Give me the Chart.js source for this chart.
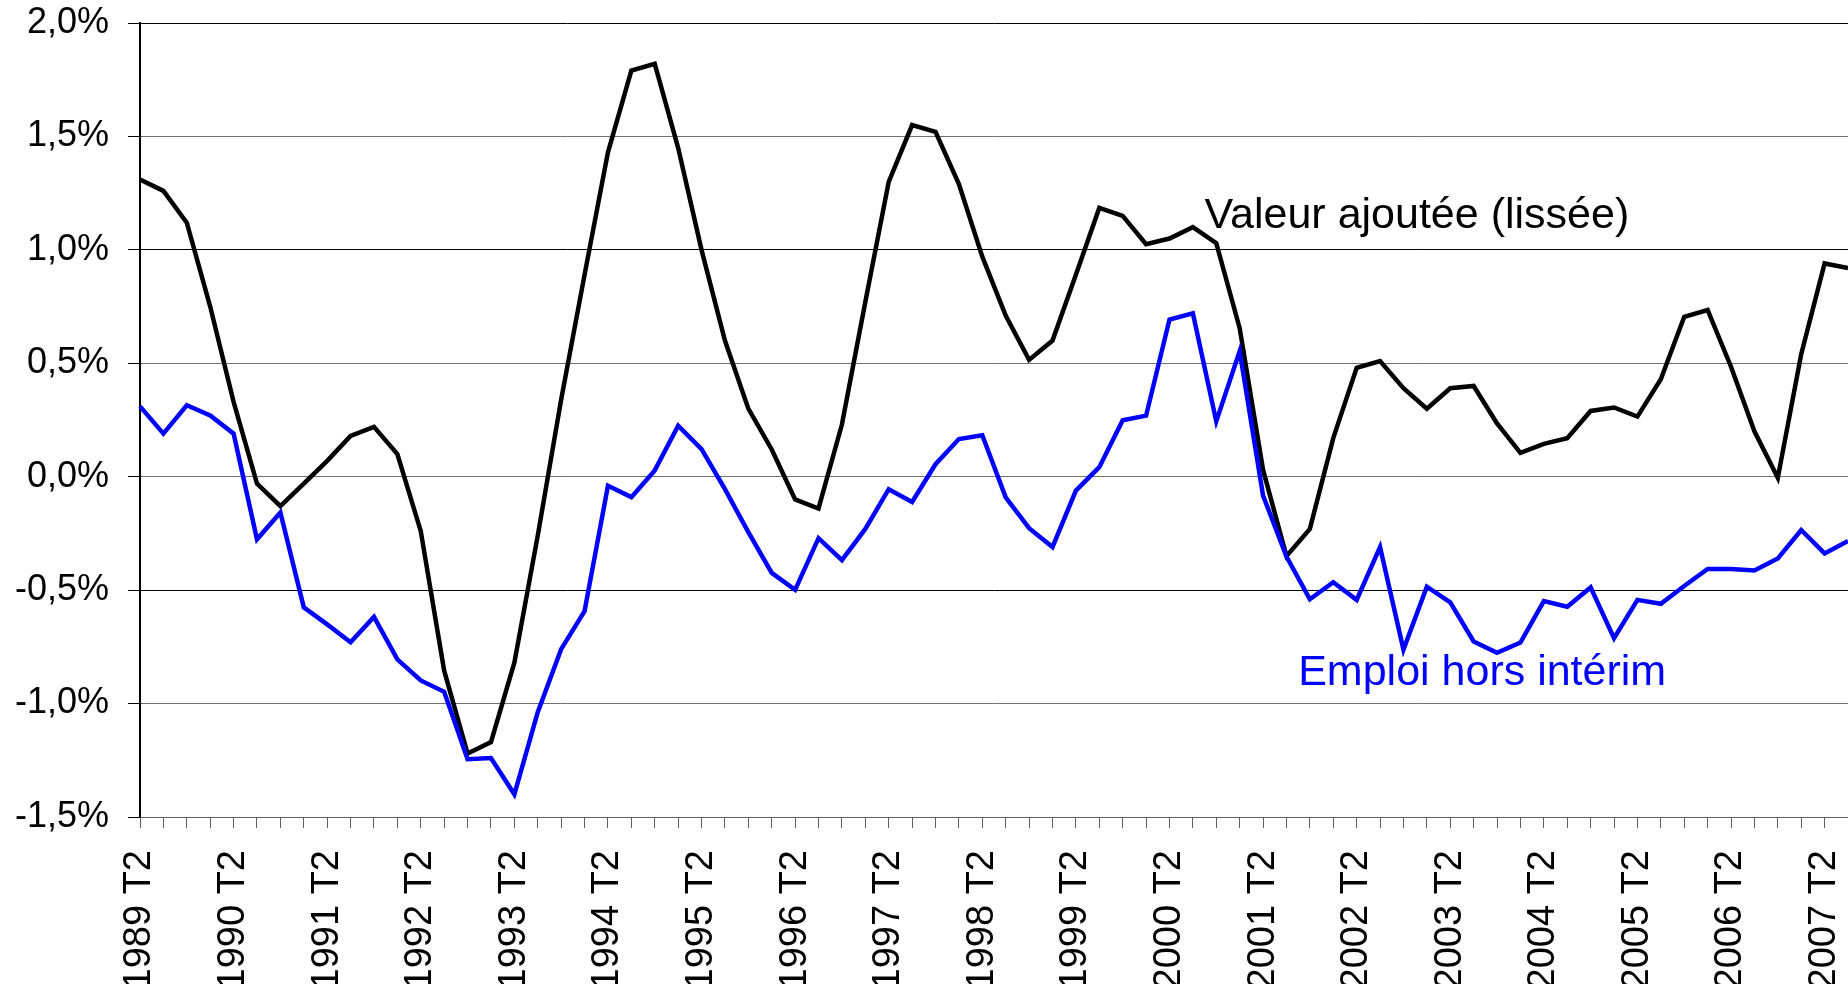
<!DOCTYPE html>
<html lang="fr">
<head>
<meta charset="utf-8">
<title>Valeur ajoutée et emploi</title>
<script src="https://cdn.jsdelivr.net/npm/chart.js@4.4.1/dist/chart.umd.min.js"></script>
<style>
  html, body { margin: 0; padding: 0; background: #fff; overflow: hidden; }
  #wrap { position: absolute; left: 0; top: 0; width: 1848px; height: 984px; }
</style>
</head>
<body>
<div id="wrap"><canvas id="chart"></canvas></div>
<script>
// ==================== DATA ====================
const quarters = [
  '1989 T2', '1989 T3', '1989 T4',
  '1990 T1', '1990 T2', '1990 T3', '1990 T4',
  '1991 T1', '1991 T2', '1991 T3', '1991 T4',
  '1992 T1', '1992 T2', '1992 T3', '1992 T4',
  '1993 T1', '1993 T2', '1993 T3', '1993 T4',
  '1994 T1', '1994 T2', '1994 T3', '1994 T4',
  '1995 T1', '1995 T2', '1995 T3', '1995 T4',
  '1996 T1', '1996 T2', '1996 T3', '1996 T4',
  '1997 T1', '1997 T2', '1997 T3', '1997 T4',
  '1998 T1', '1998 T2', '1998 T3', '1998 T4',
  '1999 T1', '1999 T2', '1999 T3', '1999 T4',
  '2000 T1', '2000 T2', '2000 T3', '2000 T4',
  '2001 T1', '2001 T2', '2001 T3', '2001 T4',
  '2002 T1', '2002 T2', '2002 T3', '2002 T4',
  '2003 T1', '2003 T2', '2003 T3', '2003 T4',
  '2004 T1', '2004 T2', '2004 T3', '2004 T4',
  '2005 T1', '2005 T2', '2005 T3', '2005 T4',
  '2006 T1', '2006 T2', '2006 T3', '2006 T4',
  '2007 T1', '2007 T2', '2007 T3'
];

// Valeur ajoutée (lissée), glissement trimestriel en %
const valeurAjoutee = [
  1.31, 1.26, 1.12, 0.75, 0.33, -0.03, -0.13, -0.03, 0.07, 0.18,
  0.22, 0.10, -0.24, -0.855, -1.22, -1.17, -0.82, -0.26, 0.34, 0.89,
  1.43, 1.79, 1.82, 1.45, 1.00, 0.60, 0.30, 0.12, -0.10, -0.14,
  0.23, 0.77, 1.30, 1.55, 1.52, 1.29, 0.97, 0.71, 0.515, 0.60,
  0.89, 1.185, 1.15, 1.025, 1.05, 1.10, 1.03, 0.655, 0.03, -0.35,
  -0.23, 0.17, 0.48, 0.51, 0.39, 0.30, 0.39, 0.40, 0.235, 0.105,
  0.145, 0.17, 0.29, 0.305, 0.265, 0.43, 0.705, 0.735, 0.485, 0.20,
  -0.005, 0.54, 0.94, 0.92
];

// Emploi hors intérim, glissement trimestriel en %
const emploiHorsInterim = [
  0.31, 0.19, 0.315, 0.27, 0.19, -0.276, -0.158, -0.576, -0.651, -0.73,
  -0.618, -0.805, -0.898, -0.948, -1.245, -1.24, -1.40, -1.038, -0.76, -0.593,
  -0.04, -0.09, 0.028, 0.225, 0.122, -0.055, -0.244, -0.424, -0.499, -0.271,
  -0.368, -0.23, -0.055, -0.111, 0.055, 0.166, 0.183, -0.091, -0.227, -0.31,
  -0.061, 0.042, 0.249, 0.269, 0.693, 0.72, 0.244, 0.554, -0.083, -0.352,
  -0.54, -0.465, -0.543, -0.31, -0.762, -0.485, -0.554, -0.726, -0.776, -0.731,
  -0.548, -0.573, -0.488, -0.712, -0.543, -0.56, -0.482, -0.407, -0.407, -0.413,
  -0.36, -0.235, -0.338, -0.283
];

const yTicks = [-1.5, -1.0, -0.5, 0.0, 0.5, 1.0, 1.5, 2.0];

// ==================== CHART ====================
const FONT = "'Liberation Sans', Arial, sans-serif";

// text labels placed next to the curves (x = category index, y = value)
const seriesLabels = {
  id: 'seriesLabels',
  afterDatasetsDraw(chart) {
    const { ctx, scales: { x, y } } = chart;
    ctx.save();
    ctx.font = '43px ' + FONT;
    ctx.textAlign = 'left';
    ctx.textBaseline = 'alphabetic';
    ctx.fillStyle = '#000000';
    ctx.fillText('Valeur ajoutée (lissée)', x.getPixelForValue(45.5), y.getPixelForValue(1.097));
    ctx.fillStyle = '#0000ff';
    ctx.fillText('Emploi hors intérim', x.getPixelForValue(49.5), y.getPixelForValue(-0.919));
    ctx.restore();
  }
};

new Chart(document.getElementById('chart'), {
  type: 'line',
  data: {
    labels: quarters,
    datasets: [
      {
        label: 'Emploi hors intérim',
        data: emploiHorsInterim,
        borderColor: '#0000ff',
        borderWidth: 4.5,
        pointRadius: 0,
        tension: 0,
        fill: false
      },
      {
        label: 'Valeur ajoutée (lissée)',
        data: valeurAjoutee,
        borderColor: '#000000',
        borderWidth: 4.5,
        pointRadius: 0,
        tension: 0,
        fill: false
      }
    ]
  },
  options: {
    responsive: true,
    maintainAspectRatio: false,
    animation: false,
    events: [],
    layout: { padding: { top: 23, right: 0, bottom: 0, left: 0 } },
    plugins: {
      legend: { display: false },
      tooltip: { enabled: false },
      title: { display: false }
    },
    scales: {
      x: {
        type: 'category',
        offset: false,
        border: { display: true, color: '#606060', width: 1 },
        grid: {
          display: true,
          drawOnChartArea: false,
          drawTicks: true,
          tickLength: 11,
          color: '#606060',
          lineWidth: 1
        },
        ticks: {
          autoSkip: false,
          minRotation: 90,
          maxRotation: 90,
          padding: 22,
          color: '#000000',
          font: { family: FONT, size: 38 },
          callback: (value, index) => (index % 4 === 0 ? quarters[index] : '')
        },
        afterFit: (scale) => {
          scale.height = 167;
          scale.paddingLeft = 0;
          scale.paddingRight = 0;
        }
      },
      y: {
        min: -1.5,
        max: 2.0,
        afterBuildTicks: (scale) => {
          scale.ticks = yTicks.map(v => ({ value: v }));
        },
        border: { display: true, color: '#000000', width: 2 },
        grid: {
          drawTicks: true,
          tickLength: 12,
          tickColor: '#000000',
          lineWidth: 1,
          color: (c) => ([2, 1, -0.5].includes(c.tick && c.tick.value) ? '#000000' : '#707070')
        },
        ticks: {
          padding: 19,
          color: '#000000',
          font: { family: FONT, size: 36 },
          callback: (v) => v.toFixed(1).replace('.', ',') + '%'
        },
        afterFit: (scale) => {
          scale.width = 140;
          scale.paddingTop = 0;
          scale.paddingBottom = 0;
        }
      }
    }
  },
  plugins: [seriesLabels]
});
</script>
</body>
</html>
